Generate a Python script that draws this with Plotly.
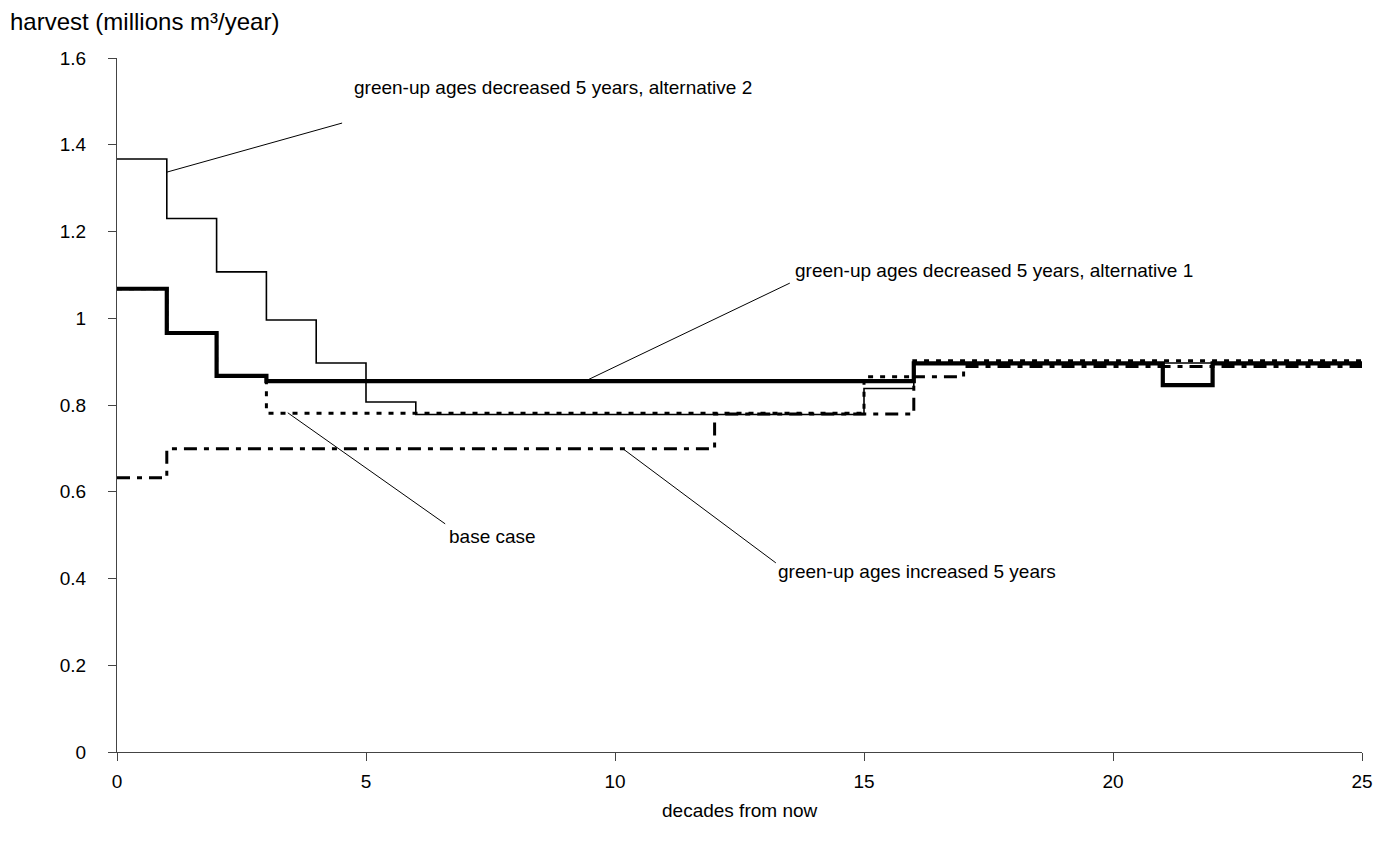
import plotly.graph_objects as go

decades = list(range(26))

# harvest per decade (millions m3/year); value i holds for decade [i, i+1]
alt2 = [1.367, 1.230, 1.107, 0.996, 0.897, 0.807] + [0.778] * 9 + [0.838] + [0.897] * 9
alt1 = [1.068, 0.966, 0.867] + [0.855] * 13 + [0.896] * 5 + [0.846] + [0.896] * 3
base = [1.068, 0.966, 0.867] + [0.781] * 12 + [0.865] + [0.902] * 9
incr = [0.632] + [0.699] * 11 + [0.779] * 4 + [0.865] + [0.889] * 8

def ext(v):
    return v + [v[-1]]

x_ticks = [0, 5, 10, 15, 20, 25]
y_ticks = [0, 0.2, 0.4, 0.6, 0.8, 1, 1.2, 1.4, 1.6]
y_tick_text = ["0", "0.2", "0.4", "0.6", "0.8", "1", "1.2", "1.4", "1.6"]

labels = [
    ("green-up ages decreased 5 years, alternative 2", (1.004, 1.337), (4.52, 1.450), (4.72, 1.533)),
    ("green-up ages decreased 5 years, alternative 1", (9.40, 0.855), (13.51, 1.081), (13.57, 1.111)),
    ("base case", (3.43, 0.782), (6.59, 0.526), (6.63, 0.496)),
    ("green-up ages increased 5 years", (10.16, 0.699), (13.23, 0.436), (13.23, 0.417)),
]

FONT = "Liberation Sans, Arial, sans-serif"
fig = go.Figure()

fig.add_trace(go.Scatter(x=decades, y=ext(incr), mode="lines", line_shape="hv",
                         line=dict(color="black", width=3, dash="13px,7px,5px,7px"), hoverinfo="skip"))
fig.add_trace(go.Scatter(x=decades, y=ext(alt2), mode="lines", line_shape="hv",
                         line=dict(color="black", width=1.6), hoverinfo="skip"))
fig.add_trace(go.Scatter(x=decades, y=ext(alt1), mode="lines", line_shape="hv",
                         line=dict(color="black", width=4.2), hoverinfo="skip"))
fig.add_trace(go.Scatter(x=decades, y=ext(base), mode="lines", line_shape="hv",
                         line=dict(color="black", width=3, dash="5px,7px"), hoverinfo="skip"))

for text, p0, p1, tp in labels:
    fig.add_shape(type="line", xref="x", yref="y", x0=p0[0], y0=p0[1], x1=p1[0], y1=p1[1],
                  line=dict(color="black", width=1))
    fig.add_annotation(x=tp[0], y=tp[1], xref="x", yref="y", text=text, showarrow=False,
                       xanchor="left", yanchor="middle", font=dict(size=19, color="black", family=FONT))

fig.add_annotation(x=-0.0876, y=1.052, xref="paper", yref="paper", text="harvest (millions m³/year)",
                   showarrow=False, xanchor="left", yanchor="middle",
                   font=dict(size=24, color="black", family=FONT))
fig.add_annotation(x=0.5, y=-0.0836, xref="paper", yref="paper", text="decades from now",
                   showarrow=False, xanchor="center", yanchor="middle",
                   font=dict(size=19, color="black", family=FONT))

fig.update_layout(
    width=1390, height=848,
    margin=dict(l=117, r=28, t=58, b=96),
    paper_bgcolor="white", plot_bgcolor="white",
    showlegend=False,
    font=dict(family=FONT, size=19, color="black"),
    xaxis=dict(range=[0, 25], tickvals=x_ticks, ticks="outside", ticklen=8, tickcolor="#444",
               showline=True, linecolor="#444", linewidth=1, showgrid=False, zeroline=False,
               ticklabelstandoff=4),
    yaxis=dict(range=[0, 1.6], tickvals=y_ticks, ticktext=y_tick_text, ticks="outside", ticklen=8,
               tickcolor="#444", showline=True, linecolor="#444", linewidth=1, showgrid=False,
               zeroline=False, ticklabelstandoff=18),
)

fig.write_html("out.html")
